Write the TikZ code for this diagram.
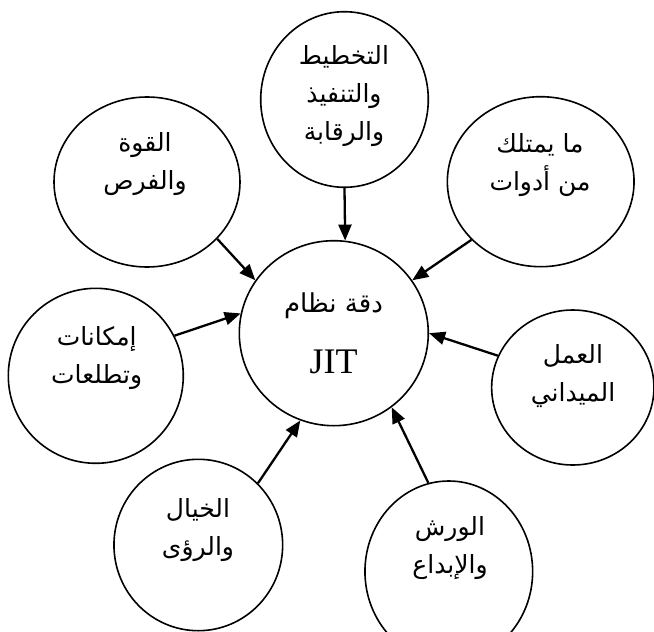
\documentclass[tikz,border=0pt]{standalone}
\usepackage{fontspec}
\setmainfont{Liberation Serif}
\newfontfamily\arabicfont[Script=Arabic]{DejaVu Sans}
\TeXXeTstate=1
\usetikzlibrary{shapes.geometric,arrows.meta}
% one right-to-left line of Arabic text
\newcommand\artxt[1]{{\arabicfont\beginR #1\endR}}

\begin{document}
\begin{tikzpicture}[x=1pt,y=-1pt,
  bubble/.style={draw,line width=1.6pt,ellipse,inner sep=0pt},
  lbl/.style={align=center,font=\fontsize{25}{38}\selectfont,inner sep=0pt},
  arr/.style={line width=2.3pt,-{Triangle[length=16pt,width=13pt]}}]
\useasboundingbox (0,0) rectangle (654,632);

% central system
\node[bubble,minimum width=189pt,minimum height=185pt] (c) at (333.8,333.2) {};
\node[inner sep=0pt] (ct1) at (333.5,306) {\fontsize{26}{30}\selectfont\artxt{دقة نظام}};
\node[inner sep=0pt] (ct2) at (333.5,361.7) {\fontsize{36}{40}\selectfont JIT};

% surrounding factors
\node[bubble,minimum width=167.6pt,minimum height=175.6pt] (n1) at (344.5,99.5) {};
\node[bubble,minimum width=186pt,minimum height=170pt] (n2) at (147,182) {};
\node[bubble,minimum width=186.7pt,minimum height=170pt] (n3) at (540.7,181.7) {};
\node[bubble,minimum width=175pt,minimum height=175pt] (n4) at (95.8,375.8) {};
\node[bubble,minimum width=162.3pt,minimum height=155pt] (n5) at (572.8,387.5) {};
\node[bubble,minimum width=168.7pt,minimum height=171.4pt] (n6) at (198.3,545) {};
\node[bubble,minimum width=167.7pt,minimum height=181pt] (n7) at (448.8,571.5) {};

\node[lbl] (t1) at (344,96) {\artxt{التخطيط}\\\artxt{والتنفيذ}\\\artxt{والرقابة}};
\node[lbl] (t2) at (145,164) {\artxt{القوة}\\\artxt{والفرص}};
\node[lbl] (t3) at (540,165) {\artxt{ما يمتلك}\\\artxt{من أدوات}};
\node[lbl] (t4) at (96.7,358) {\artxt{إمكانات}\\\artxt{وتطلعات}};
\node[lbl] (t5) at (573,376) {\artxt{العمل}\\\artxt{الميداني}};
\node[lbl] (t6) at (198,530) {\artxt{الخيال}\\\artxt{والرؤى}};
\node[lbl] (t7) at (450,548) {\artxt{الورش}\\\artxt{والإبداع}};

% influences on the system
\draw[arr] (n1.-90) -- (c.83);
\draw[arr] (n2.-39) -- (c.146);
\draw[arr] (n3.-140) -- (c.34);
\draw[arr] (n4.27) -- (c.168);
\draw[arr] (n5.157) -- (c.0);
\draw[arr] (n6.46) -- (c.-111);
\draw[arr] (n7.103) -- (c.-52);
\end{tikzpicture}
\end{document}
